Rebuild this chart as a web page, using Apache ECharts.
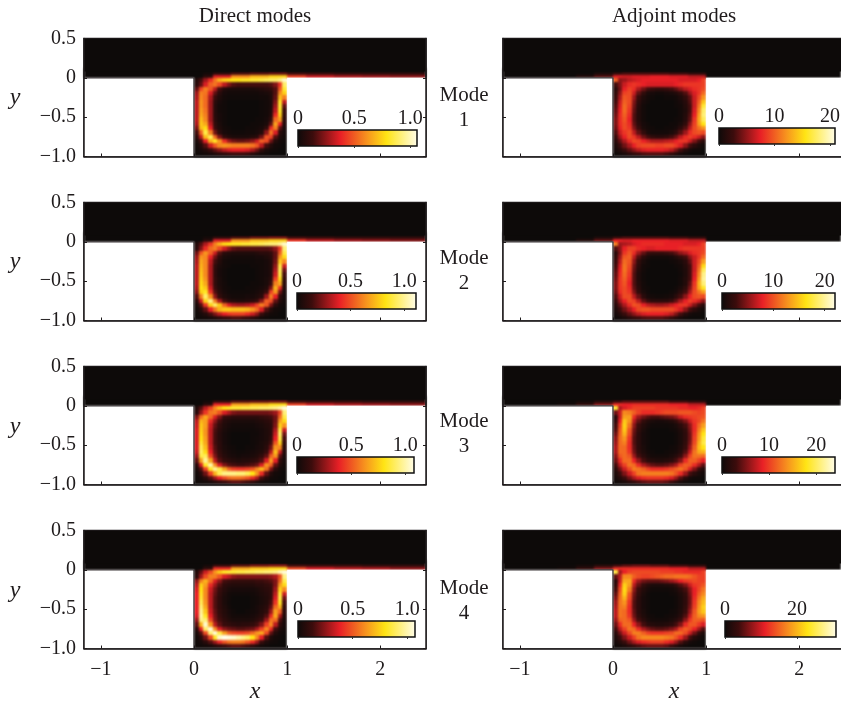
<!DOCTYPE html>
<html><head><meta charset="utf-8">
<style>html,body{margin:0;padding:0;background:#fff;overflow:hidden}#c{width:841px;height:704px}
canvas[data-zr-dom-id="zr_0"]{filter:blur(1.2px)}</style>
<script src="https://cdn.jsdelivr.net/npm/echarts@6/dist/echarts.min.js"></script>
</head><body><div id="c"></div>
<script>
const xTicks=[-1,0,1,2];
const yTicks=[0.5,0,-0.5,-1];
const barTicksDirect=[0,0.5,1];
const barTicksA=[0,10,20];
const barTicksA4=[0,20];
const barMaxes=[1.06,1.11,1.08,1.07,20.9,22,24,30.8];
const shearEdges=[-0.6,-0.4,-0.2,0,0.1,0.2,0.4,0.6,0.8,1,1.2,1.5,1.8,2.1,2.49];
const shearLowD1=[0,0,0,0,8,34,56,64,70,42,32,28,26,24];
const shearHighD1=[0,0,0,0,2,8,14,16,18,12,10,8,8,8];
const shearLowD2=[0,0,0,0,8,34,58,66,70,40,30,26,24,22];
const shearHighD2=[0,0,0,0,2,8,14,18,20,12,10,8,8,8];
const shearLowD3=[0,0,0,0,8,36,60,66,72,42,32,28,26,24];
const shearHighD3=[0,0,0,0,2,10,16,18,20,12,10,10,8,8];
const shearLowD4=[0,0,0,0,10,38,62,68,72,44,34,30,28,24];
const shearHighD4=[0,0,0,0,2,10,16,20,22,12,10,10,8,8];
const shearLowA1=[0,6,16,34,32,34,36,34,30,0,0,0,0,0];
const shearHighA1=[0,0,4,10,14,14,14,12,8,0,0,0,0,0];
const shearLowA2=[0,6,18,36,34,36,36,34,30,0,0,0,0,0];
const shearHighA2=[0,0,4,10,14,14,14,12,8,0,0,0,0,0];
const shearLowA3=[2,10,22,38,36,38,38,36,30,0,0,0,0,0];
const shearHighA3=[0,2,6,12,16,16,16,12,8,0,0,0,0,0];
const shearLowA4=[2,10,22,38,38,38,38,36,30,0,0,0,0,0];
const shearHighA4=[0,2,6,12,16,18,16,12,8,0,0,0,0,0];
const direct1=[
[6,14,26,38,52,64,70,72,74,74,76,76,78,78,80,82,84,84,88,96],
[8,18,34,48,52,44,30,22,16,14,14,14,14,14,14,14,16,22,40,84],
[18,42,54,46,30,14,6,4,4,4,4,4,4,5,6,8,10,16,46,78],
[26,54,52,34,18,8,3,2,2,2,2,2,2,2,3,4,6,16,56,70],
[28,56,50,28,12,5,2,1,1,1,1,1,1,1,2,2,5,18,66,54],
[30,58,50,26,8,3,1,0,0,0,0,0,0,0,1,2,4,22,76,30],
[30,58,50,26,7,2,1,0,0,0,0,0,0,0,1,2,4,26,78,18],
[30,60,52,26,7,2,1,0,0,0,0,0,0,0,1,2,5,30,76,12],
[30,62,54,26,7,3,1,0,0,0,0,0,0,0,1,2,6,38,70,10],
[30,66,56,26,8,3,1,0,0,0,0,0,0,1,1,3,10,50,60,8],
[28,68,62,30,10,4,1,0,0,0,0,0,1,1,2,4,18,60,36,6],
[22,66,72,36,12,5,2,1,0,0,0,1,1,2,3,10,38,54,18,4],
[14,48,80,54,20,8,3,2,1,1,1,2,2,3,6,24,52,34,8,3],
[8,30,66,82,50,22,10,6,4,4,4,4,6,8,20,46,42,16,5,2],
[4,14,36,64,76,58,38,26,20,18,18,20,24,32,48,44,20,6,2,1],
[2,6,16,32,46,56,58,56,54,54,54,54,52,46,30,14,6,2,1,0],
[1,3,6,12,18,24,30,34,36,36,36,34,28,20,10,4,2,1,0,0],
[1,1,2,3,5,7,9,11,13,13,13,11,7,4,2,1,0,0,0,0]];
const direct2=[
[6,16,28,40,54,64,72,74,76,76,78,78,80,80,82,84,86,86,90,96],
[8,22,38,50,54,44,32,24,18,16,16,16,16,16,16,16,18,24,42,86],
[20,46,58,48,32,16,8,6,5,5,5,5,5,6,8,8,10,18,48,80],
[26,58,56,36,20,9,4,3,2,2,2,2,2,3,3,5,8,18,58,72],
[28,62,56,30,14,6,2,1,1,1,1,1,1,2,2,3,6,20,68,56],
[30,64,56,28,10,4,2,1,0,0,0,0,1,1,2,3,6,24,80,32],
[30,66,56,28,9,3,1,0,0,0,0,0,0,1,2,3,6,28,82,20],
[30,68,56,28,9,3,1,0,0,0,0,0,0,1,2,3,6,32,80,14],
[30,70,58,28,10,4,1,0,0,0,0,0,0,1,2,4,8,42,72,10],
[30,72,62,28,10,4,2,0,0,0,0,0,1,1,2,4,12,54,62,8],
[28,74,68,32,12,5,2,1,0,0,0,1,1,2,3,6,22,64,38,6],
[24,70,76,40,16,7,3,1,1,1,1,1,2,3,5,12,42,58,20,4],
[16,54,84,58,24,10,5,3,2,2,2,3,3,5,8,26,54,36,10,3],
[8,32,70,88,54,28,14,8,6,5,5,6,8,12,24,48,44,18,6,2],
[4,16,40,70,84,68,48,34,28,26,26,28,32,42,54,46,22,8,2,1],
[2,7,18,36,52,64,68,68,66,66,66,64,58,50,34,16,6,2,1,0],
[1,3,6,14,22,30,36,40,42,42,42,38,32,24,12,5,2,1,0,0],
[1,1,2,3,5,8,11,13,15,15,13,11,8,5,2,1,0,0,0,0]];
const direct3=[
[6,16,30,42,56,66,74,76,78,78,80,80,82,82,84,84,86,88,92,98],
[8,24,40,52,54,46,34,28,22,20,20,20,20,20,20,20,22,26,44,86],
[22,50,62,50,34,22,12,10,8,8,8,8,8,8,10,12,14,20,50,80],
[30,64,60,38,24,14,7,5,4,4,4,4,4,5,6,8,10,20,60,72],
[32,68,60,32,18,10,5,3,2,2,2,2,2,3,4,6,8,22,70,58],
[34,70,58,30,15,8,4,2,1,1,1,1,1,2,3,5,8,28,80,32],
[34,72,58,30,14,7,3,1,0,0,0,0,1,1,3,5,8,32,84,20],
[34,74,60,30,14,7,3,1,0,0,0,0,1,2,3,5,10,36,80,14],
[34,78,62,30,14,8,3,1,0,0,0,0,1,2,4,6,14,46,70,10],
[34,82,66,32,16,8,4,2,1,0,0,1,1,3,4,8,20,58,56,8],
[32,84,72,36,18,10,5,3,2,1,1,2,3,4,6,12,30,66,32,6],
[26,80,82,44,22,12,7,4,3,2,3,3,4,6,10,18,48,58,18,4],
[18,60,90,62,30,16,10,8,6,5,6,6,8,10,16,34,60,36,10,3],
[8,34,76,92,58,34,22,16,14,12,12,14,16,20,34,58,48,18,6,2],
[4,16,42,76,90,80,62,48,42,40,40,42,46,56,66,52,22,8,2,1],
[2,7,20,42,64,82,88,88,88,86,86,82,74,58,38,18,6,2,1,0],
[1,3,8,16,26,36,44,50,52,52,50,46,38,28,14,6,2,1,0,0],
[1,1,2,3,6,9,12,15,17,17,15,13,9,5,2,1,0,0,0,0]];
const direct4=[
[6,18,32,44,58,68,76,78,78,80,80,82,82,84,84,86,86,88,94,98],
[8,26,44,54,54,46,34,30,24,22,22,22,22,22,22,22,24,28,46,88],
[24,54,64,50,34,24,14,12,10,10,10,10,10,12,12,14,16,22,50,80],
[30,70,60,38,26,16,9,7,6,6,6,6,6,8,8,10,12,22,60,72],
[34,74,56,32,20,12,7,4,3,3,3,3,3,4,6,8,10,26,70,56],
[36,76,56,30,18,10,5,2,1,1,1,1,2,3,5,7,10,30,78,32],
[36,78,56,30,16,9,4,2,0,0,0,0,1,2,4,6,10,34,80,20],
[36,82,58,30,16,9,4,1,0,0,0,0,1,2,4,6,14,40,76,14],
[36,86,62,30,16,9,5,2,0,0,0,0,1,3,5,8,18,50,64,10],
[36,90,68,32,18,10,6,3,1,0,0,1,2,3,6,10,26,60,48,8],
[34,92,76,36,20,12,7,4,2,2,2,2,3,5,8,16,38,62,28,6],
[26,88,86,44,22,14,9,6,4,4,4,4,5,8,12,26,52,50,16,4],
[18,64,96,60,30,18,12,10,8,7,8,8,10,14,22,42,56,30,10,3],
[8,36,84,98,58,34,24,20,18,16,16,18,20,28,42,56,38,14,5,2],
[4,16,44,86,98,80,60,48,44,42,42,44,50,58,62,44,18,6,2,1],
[2,7,20,44,76,96,100,98,96,92,88,84,74,56,36,16,5,2,1,0],
[1,3,8,16,26,38,46,52,54,54,52,46,38,26,12,5,2,1,0,0],
[1,1,2,3,6,9,12,15,17,17,15,13,9,5,2,1,0,0,0,0]];
const adjoint1=[
[48,24,26,30,32,34,36,36,36,36,36,36,36,36,34,34,34,34,36,42],
[14,22,32,38,40,38,36,34,34,34,34,34,34,36,38,40,40,40,40,42],
[8,20,36,42,38,28,20,14,12,10,10,12,14,18,24,30,34,38,40,44],
[10,24,42,44,32,18,10,4,3,2,2,3,4,6,10,16,26,34,40,50],
[12,28,46,44,26,12,5,2,1,0,0,1,1,2,5,10,18,32,44,58],
[14,32,48,44,22,9,3,1,0,0,0,0,0,1,3,7,16,32,48,68],
[16,34,50,42,20,7,2,0,0,0,0,0,0,1,2,6,14,32,52,78],
[18,36,50,40,18,6,2,0,0,0,0,0,0,0,2,5,14,34,56,84],
[20,38,48,38,16,6,2,0,0,0,0,0,0,0,2,6,16,36,60,86],
[22,38,46,36,16,6,2,0,0,0,0,0,0,1,2,7,18,40,62,82],
[22,38,44,38,18,8,3,1,0,0,0,0,1,1,4,10,24,42,60,74],
[20,36,44,40,22,12,4,2,1,0,0,1,1,3,8,16,30,44,52,58],
[16,32,40,44,30,18,10,4,2,2,2,2,4,8,16,26,38,44,46,44],
[12,26,36,44,40,30,20,14,10,8,8,10,14,20,30,38,42,38,32,24],
[8,18,28,38,44,42,36,32,28,28,28,30,32,36,40,40,32,22,14,8],
[5,12,20,28,36,42,44,44,44,42,42,44,44,40,34,24,14,8,4,2],
[3,6,12,18,24,30,34,36,36,36,36,34,30,22,14,7,3,1,1,0],
[1,2,4,7,10,12,15,16,16,16,16,14,10,6,3,1,0,0,0,0]];
const adjoint2=[
[54,26,28,30,34,36,38,38,38,38,38,36,36,36,36,34,34,34,36,42],
[16,24,36,42,42,38,36,34,34,36,36,36,36,36,38,40,40,40,40,42],
[8,22,40,46,38,26,18,12,10,10,10,12,14,18,24,28,34,38,40,44],
[10,26,46,48,30,16,8,4,2,2,2,2,3,6,10,14,24,32,40,50],
[12,30,50,46,24,10,4,1,0,0,0,0,1,2,4,8,18,32,44,60],
[14,34,52,44,20,8,2,1,0,0,0,0,0,1,2,6,14,32,48,72],
[16,36,52,42,18,6,2,0,0,0,0,0,0,0,2,5,14,32,52,82],
[18,38,50,40,16,5,1,0,0,0,0,0,0,0,1,5,14,34,56,88],
[20,40,48,38,16,5,1,0,0,0,0,0,0,0,2,6,14,36,60,90],
[22,40,46,36,16,6,2,0,0,0,0,0,0,0,2,6,18,40,64,86],
[22,40,44,38,18,8,2,1,0,0,0,0,0,1,4,10,22,42,62,76],
[20,38,44,40,22,10,4,1,0,0,0,0,1,3,8,14,28,44,52,60],
[16,32,44,44,30,18,8,3,2,1,1,2,3,8,14,24,36,44,46,44],
[12,26,36,44,42,30,18,12,8,8,8,8,12,18,28,36,42,38,32,24],
[8,18,28,38,46,44,36,30,28,26,26,28,32,36,40,40,32,22,14,8],
[5,12,20,28,36,44,46,46,44,44,44,44,44,40,34,24,14,8,4,2],
[3,6,12,18,24,30,34,36,36,36,36,34,30,22,14,7,3,1,1,0],
[1,2,4,7,10,12,15,16,16,16,16,14,10,6,3,1,0,0,0,0]];
const adjoint3=[
[78,28,34,38,42,42,42,42,42,40,40,40,40,40,38,38,36,36,38,42],
[20,32,56,54,48,42,38,38,38,40,42,44,44,44,46,46,46,44,42,44],
[8,32,60,60,38,26,20,16,14,14,16,18,20,24,32,38,40,42,44,46],
[10,36,68,58,30,18,10,6,4,3,3,4,6,10,16,22,32,40,44,52],
[14,42,70,52,24,12,6,3,1,1,1,1,2,4,8,14,24,38,50,60],
[16,46,68,46,20,10,4,1,0,0,0,0,1,2,5,10,22,38,54,68],
[20,48,64,44,18,8,3,1,0,0,0,0,0,1,4,9,20,40,58,74],
[24,50,58,40,16,8,3,1,0,0,0,0,0,1,4,9,20,42,60,78],
[26,50,54,38,16,8,3,1,0,0,0,0,0,1,4,10,22,44,64,80],
[28,50,50,38,18,8,4,1,0,0,0,0,1,2,5,12,26,48,66,74],
[28,50,50,40,20,10,5,2,1,0,0,1,2,3,7,16,32,52,62,64],
[24,46,50,46,26,14,8,4,2,2,2,2,4,7,12,24,42,52,52,50],
[20,38,50,50,36,24,14,8,6,5,5,6,8,14,22,38,48,48,42,36],
[14,30,42,52,50,38,28,22,18,16,16,18,22,28,42,48,46,38,28,18],
[8,20,32,44,54,52,48,42,38,38,38,40,44,48,52,46,34,22,12,6],
[5,12,22,32,42,52,54,54,54,54,54,54,52,46,38,26,14,8,4,2],
[3,6,12,20,28,34,38,40,40,40,40,38,34,26,16,8,3,1,1,0],
[1,2,4,7,10,14,17,19,19,19,19,17,12,7,3,1,0,0,0,0]];
const adjoint4=[
[80,26,36,42,44,44,44,44,44,44,42,42,42,40,40,38,38,38,38,42],
[18,30,56,56,48,44,42,42,44,46,48,50,50,52,52,52,50,46,42,42],
[8,32,62,62,38,26,20,18,18,18,20,22,26,30,36,40,42,44,42,42],
[10,38,70,60,30,18,10,6,4,4,4,5,6,10,16,22,32,40,42,46],
[14,44,72,54,24,12,6,3,1,1,1,1,2,4,8,14,24,36,44,52],
[18,48,70,46,20,10,4,1,0,0,0,0,1,2,5,10,22,36,48,56],
[22,50,64,44,18,8,3,1,0,0,0,0,0,1,4,9,20,38,52,62],
[26,52,58,40,16,8,3,1,0,0,0,0,0,1,4,9,20,40,56,66],
[28,52,54,38,16,8,3,1,0,0,0,0,0,1,4,10,22,42,58,70],
[30,52,50,38,18,8,4,1,0,0,0,0,1,2,5,12,26,46,60,68],
[30,52,50,40,20,10,5,2,1,0,0,1,2,3,7,16,32,48,56,58],
[26,48,50,46,26,14,8,4,2,2,2,2,4,7,12,24,40,48,48,46],
[20,38,50,50,36,24,14,8,6,5,5,6,8,14,22,38,46,46,40,34],
[14,30,42,52,50,38,28,22,18,16,16,18,22,28,42,48,44,36,26,16],
[8,20,32,44,54,54,48,42,40,40,40,42,44,50,50,44,32,20,10,5],
[5,12,22,32,42,52,56,56,56,56,56,54,52,46,38,26,14,6,3,1],
[3,6,12,20,28,34,38,40,42,42,42,38,34,26,16,8,3,1,0,0],
[1,2,4,7,10,14,17,19,19,19,19,17,12,7,3,1,0,0,0,0]];

const FONT='"Liberation Serif","Times New Roman",serif', INK='#1f1b1c', BG='#0d0a09';
const XMIN=-1.18, XMAX=2.49;
const solidBlocks=[[XMIN,0,-1,0,'#fff'],[1,XMAX,-1,0,'#fff'],[XMIN,XMAX,0.08,0.5,BG]];
const stops=[[0,[13,10,9]],[0.13,[60,12,12]],[0.36,[232,32,38]],[0.58,[247,148,30]],[0.74,[255,228,20]],[1,[255,253,235]]];
function colorAt(t){t=Math.max(0,Math.min(1,t));
  for(let i=1;i<stops.length;i++){if(t<=stops[i][0]){const a=stops[i-1],b=stops[i],k=(t-a[0])/(b[0]-a[0]);
    return 'rgb('+a[1].map((v,j)=>Math.round(v+(b[1][j]-v)*k)).join(',')+')';}}
  return 'rgb(255,253,235)';}
const minus=v=>String(v).replace('-','\u2212');
const panels=[
 {m:direct1,lo:shearLowD1,hi:shearHighD1,gx:84,gy:38.5,bx:298,bw:119,by:130,t:barTicksDirect},
 {m:direct2,lo:shearLowD2,hi:shearHighD2,gx:84,gy:202.5,bx:297,bw:119,by:293,t:barTicksDirect},
 {m:direct3,lo:shearLowD3,hi:shearHighD3,gx:84,gy:366.5,bx:297,bw:117,by:457,t:barTicksDirect},
 {m:direct4,lo:shearLowD4,hi:shearHighD4,gx:84,gy:530.5,bx:298,bw:117,by:621,t:barTicksDirect},
 {m:adjoint1,lo:shearLowA1,hi:shearHighA1,gx:503,gy:38.5,bx:719,bw:116,by:128,t:barTicksA},
 {m:adjoint2,lo:shearLowA2,hi:shearHighA2,gx:503,gy:202.5,bx:722,bw:113,by:293,t:barTicksA},
 {m:adjoint3,lo:shearLowA3,hi:shearHighA3,gx:503,gy:366.5,bx:722,bw:113,by:457,t:barTicksA},
 {m:adjoint4,lo:shearLowA4,hi:shearHighA4,gx:503,gy:530.5,bx:725,bw:111,by:621,t:barTicksA4}];
const grid=[],xAxis=[],yAxis=[],series=[];
const tickStyle={show:true,inside:true,length:3,lineStyle:{color:INK,width:1}};
const ZL=1;
panels.forEach((p,i)=>{
  const max=barMaxes[i], bottomRow=(i%4)===3, leftCol=i<4;
  grid.push({left:p.gx,top:p.gy,width:342,height:118,show:true,borderColor:INK,borderWidth:1.5,backgroundColor:'transparent',zlevel:ZL,outerBoundsMode:'none'});
  xAxis.push({gridIndex:grid.length-1,type:'value',min:XMIN,max:XMAX,position:'bottom',splitLine:{show:false},zlevel:ZL,z:5,
    axisLine:{show:true,onZero:false,lineStyle:{color:INK,width:1.5}},
    axisTick:Object.assign({customValues:xTicks},tickStyle),
    axisLabel:{show:bottomRow,customValues:xTicks,formatter:minus,fontFamily:FONT,fontSize:20,color:INK,margin:11}});
  const yLeft=yAxis.length;
  yAxis.push({gridIndex:grid.length-1,type:'value',min:-1,max:0.5,position:'left',splitLine:{show:false},zlevel:ZL,z:5,
    axisLine:{show:true,onZero:false,lineStyle:{color:INK,width:1.5}},
    axisTick:Object.assign({customValues:yTicks},tickStyle),
    axisLabel:{show:leftCol,customValues:yTicks,formatter:v=>minus(v===0?'0':v.toFixed(1)),fontFamily:FONT,fontSize:20,color:INK,margin:8,padding:[2,0,0,0]}});
  yAxis.push({gridIndex:grid.length-1,type:'value',min:-1,max:0.5,position:'right',splitLine:{show:false},zlevel:ZL,z:5,
    axisLine:{show:true,onZero:false,lineStyle:{color:INK,width:1.5}},
    axisTick:Object.assign({customValues:yTicks},tickStyle),axisLabel:{show:false}});
  const xi=xAxis.length-1;
  // cells: [x0,x1,y0,y1,value]
  const cells=[[XMIN,XMAX,0,0.12,0],[0,1,-1,0,0]];
  const rows=p.m.length,cols=p.m[0].length;
  p.m.forEach((row,r)=>row.forEach((v,c)=>cells.push([c/cols,(c+1)/cols,-(r+1)/rows,-r/rows,v/100*max])));
  for(let s=0;s<shearEdges.length-1;s++){
    cells.push([shearEdges[s],shearEdges[s+1],0,0.03,p.lo[s]/100*max]);
    cells.push([shearEdges[s],shearEdges[s+1],0.03,0.07,p.hi[s]/100*max]);
  }
  series.push({type:'custom',xAxisIndex:xi,yAxisIndex:yLeft,silent:true,clip:true,z:2,zlevel:0,
    encode:{x:[0,1],y:[2,3]},data:cells,
    renderItem:(params,api)=>{
      const a=api.coord([api.value(0),api.value(2)]),b=api.coord([api.value(1),api.value(3)]);
      const x0=Math.round(a[0]),x1=Math.round(b[0]),y0=Math.round(b[1]),y1=Math.round(a[1]);
      return {type:'rect',shape:{x:x0,y:y0,width:x1-x0,height:y1-y0},style:{fill:colorAt(api.value(4)/max)}};
    }});
  // solid step blocks and upper region keep their edges sharp
  series.push({type:'custom',xAxisIndex:xi,yAxisIndex:yLeft,silent:true,clip:true,z:1,zlevel:ZL,
    encode:{x:[0,1],y:[2,3]},data:solidBlocks,
    renderItem:(params,api)=>{
      const a=api.coord([api.value(0),api.value(2)]),b=api.coord([api.value(1),api.value(3)]);
      return {type:'rect',shape:{x:a[0],y:b[1],width:b[0]-a[0],height:a[1]-b[1]},style:{fill:solidBlocks[params.dataIndex][4]}};
    }});
  series.push({type:'line',xAxisIndex:xi,yAxisIndex:yLeft,silent:true,symbol:'none',z:3,zlevel:ZL,
    lineStyle:{color:'#3a3536',width:1.3},data:[[XMIN,0],[0,0],[0,-1],[1,-1]]});
  // colour bar
  grid.push({left:p.bx,top:p.by,width:p.bw,height:16,show:false,zlevel:ZL,outerBoundsMode:'none'});
  xAxis.push({gridIndex:grid.length-1,type:'value',min:0,max:max,position:'top',splitLine:{show:false},zlevel:ZL,z:8,
    axisLine:{show:false},axisTick:{show:true,inside:true,length:2,customValues:p.t,lineStyle:{color:'#333'}},
    axisLabel:{customValues:p.t,showMinLabel:true,showMaxLabel:true,formatter:v=>max<2?(v===0?'0':v.toFixed(1)):String(v),fontFamily:FONT,fontSize:20,color:INK,margin:1}});
  yAxis.push({gridIndex:grid.length-1,type:'value',min:0,max:1,show:false,zlevel:ZL});
  series.push({type:'custom',xAxisIndex:xAxis.length-1,yAxisIndex:yAxis.length-1,silent:true,z:6,zlevel:ZL,clip:false,
    encode:{x:[0,1],y:[2,3]},data:[[0,max,0,1]],
    renderItem:(params,api)=>{
      const a=api.coord([api.value(0),api.value(2)]),b=api.coord([api.value(1),api.value(3)]);
      return {type:'rect',shape:{x:a[0],y:b[1],width:b[0]-a[0],height:a[1]-b[1]},
        style:{stroke:'#111',lineWidth:1.5,fill:new echarts.graphic.LinearGradient(0,0,1,0,stops.map(s=>({offset:s[0],color:'rgb('+s[1].join(',')+')'})))}};
    }});
});
const txt=(x,y,text,italic)=>({type:'text',x:x,y:y,silent:true,z:20,zlevel:ZL,style:{text:text,fill:INK,align:'center',verticalAlign:'middle',
  fontFamily:FONT,fontSize:italic?24:21,fontStyle:italic?'italic':'normal'}});
const graphic=[txt(255,16,'Direct modes'),txt(674,16,'Adjoint modes'),txt(255,692,'x',true),txt(674,692,'x',true),
 txt(15,98,'y',true),txt(15,262,'y',true),txt(15,427,'y',true),txt(15,591,'y',true),
 txt(464,95,'Mode'),txt(464,120,'1'),txt(464,258,'Mode'),txt(464,283,'2'),
 txt(464,421,'Mode'),txt(464,446,'3'),txt(464,588,'Mode'),txt(464,613,'4')];
const chart=echarts.init(document.getElementById('c'),null,{renderer:'canvas'});
chart.setOption({animation:false,backgroundColor:'#fff',grid,xAxis,yAxis,series,graphic,tooltip:{show:false}});
</script></body></html>
